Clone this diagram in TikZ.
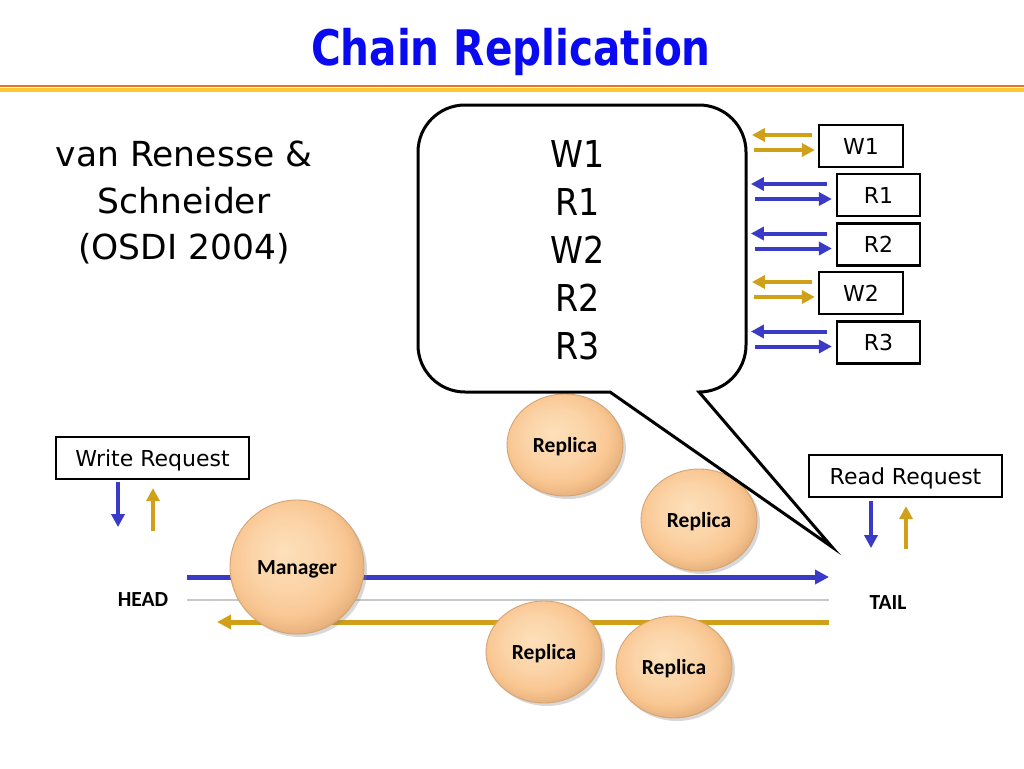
\documentclass[tikz,border=0pt]{standalone}
\usepackage{fontspec}
\usepackage{graphicx}
\setmainfont{DejaVu Sans}
\newfontfamily\condf{DejaVu Sans Condensed}
\newfontfamily\calib{Carlito}
\usetikzlibrary{arrows.meta,shadows,shapes.geometric,calc}
\definecolor{titleblue}{RGB}{10,10,240}
\definecolor{arrblue}{RGB}{58,58,200}
\definecolor{arrgold}{RGB}{208,160,24}
\definecolor{lineorange}{RGB}{240,112,32}
\definecolor{lineyellow}{RGB}{250,200,50}
\definecolor{peachL}{RGB}{253,224,186}
\definecolor{peachM}{RGB}{249,198,146}
\definecolor{peachD}{RGB}{205,148,92}
\definecolor{chaingray}{RGB}{200,200,200}
\pgfdeclareradialshading{peach}{\pgfpoint{-5bp}{6bp}}{color(0bp)=(peachL); color(14bp)=(peachL!50!peachM); color(22bp)=(peachM); color(27bp)=(peachM!65!peachD); color(32bp)=(peachD); color(50bp)=(peachD)}
\tikzset{
  ball/.style={shading=peach, draw=peachD!85, line width=0.9pt,
    drop shadow={shadow xshift=3pt, shadow yshift=-3pt, opacity=0.3},
    inner sep=0pt, text height=14pt, text depth=0pt,
    font=\calib\bfseries\fontsize{21.5}{21.5}\selectfont},
  replica/.style={ball, ellipse, minimum width=116pt, minimum height=102pt},
  manager/.style={ball, circle, minimum size=134pt},
  txtbox/.style={draw=black, line width=2.2pt, inner sep=0pt, text height=16pt, text depth=0pt,
    font=\fontsize{22}{22}\selectfont},
  barr/.style={-{Triangle[length=13pt,width=13pt]}, line width=4pt, draw=arrblue},
  garr/.style={-{Triangle[length=13pt,width=13pt]}, line width=4pt, draw=arrgold},
  lbl/.style={anchor=base, inner sep=0pt, font=\calib\bfseries\fontsize{21.5}{21.5}\selectfont},
}
\begin{document}
\begin{tikzpicture}[x=1pt,y=-1pt]
\useasboundingbox (0,0) rectangle (1024,768);
\fill[white] (0,0) rectangle (1024,768);

% title and rules
\node[anchor=base, inner sep=0pt, text=titleblue] (title) at (511,65)
  {\condf\bfseries\fontsize{49}{49}\selectfont\scalebox{0.92}[1]{Chain Replication}};
\draw[lineorange, line width=2.6pt] (0,86) -- (1024,86);
\draw[lineyellow, line width=3.8pt] (0,90.3) -- (1024,90.3);

% left text
\node[anchor=base, inner sep=0pt, font=\fontsize{34.5}{34.5}\selectfont] (a1) at (184,166) {van Renesse \&};
\node[anchor=base, inner sep=0pt, font=\fontsize{34.5}{34.5}\selectfont] (a2) at (184,213) {Schneider};
\node[anchor=base, inner sep=0pt, font=\fontsize{34.5}{34.5}\selectfont] (a3) at (184,259) {(OSDI 2004)};

% chain lines
\coordinate (bS) at (187,577); \coordinate (bE) at (829,577);
\coordinate (gS) at (187,600); \coordinate (gE) at (829,600);
\coordinate (yS) at (829,622); \coordinate (yE) at (217,622);
\draw[line width=5pt, arrblue, -{Triangle[length=14pt,width=14pt]}] (bS) -- (bE);
\draw[line width=2pt, chaingray] (gS) -- (gE);
\draw[line width=5pt, arrgold, -{Triangle[length=14pt,width=14pt]}] (yS) -- (yE);

\node[lbl] (head) at (143,606) {HEAD};
\node[lbl] (tail) at (888,609) {TAIL};

% balls
\node[manager] (mgr) at (297,567) {Manager};
\node[replica] (ra) at (565,445) {Replica};
\node[replica] (rb) at (699,520) {Replica};
\node[replica] (rc) at (544,652) {Replica};
\node[replica] (rd) at (674,667) {Replica};

% callout
\draw[line width=3pt, fill=white, line join=miter]
  (465,105) -- (699,105) arc[start angle=-90, end angle=0, radius=47]
  -- (746,345) arc[start angle=0, end angle=90, radius=47]
  -- (699,392) -- (832,547) -- (610,392) -- (465,392)
  arc[start angle=90, end angle=180, radius=47]
  -- (418,152) arc[start angle=180, end angle=270, radius=47] -- cycle;
\foreach \t/\yy/\nm in {W1/167/c1, R1/215/c2, W2/263/c3, R2/311/c4, R3/359/c5}
  \node[anchor=base, inner sep=0pt, font=\condf\fontsize{37}{37}\selectfont] (\nm) at (578,\yy) {\t};

% request boxes
\node[txtbox, minimum width=84pt, minimum height=42pt] (w1) at (861,146) {W1};
\node[txtbox, minimum width=83pt, minimum height=42pt] (r1) at (878.5,195) {R1};
\node[txtbox, minimum width=83pt, minimum height=42pt] (r2) at (878.5,244.5) {R2};
\node[txtbox, minimum width=84pt, minimum height=42pt] (w2) at (861,293) {W2};
\node[txtbox, minimum width=83pt, minimum height=42pt] (r3) at (878.5,342.5) {R3};

\foreach \b in {w1,w2}{
  \draw[garr] ([xshift=-6pt,yshift=11pt]\b.west) -- ([xshift=-66pt,yshift=11pt]\b.west);
  \draw[garr] ([xshift=-64pt,yshift=-4pt]\b.west) -- ([xshift=-3pt,yshift=-4pt]\b.west);
}
\foreach \b in {r1,r2,r3}{
  \draw[barr] ([xshift=-9pt,yshift=11pt]\b.west) -- ([xshift=-85pt,yshift=11pt]\b.west);
  \draw[barr] ([xshift=-81pt,yshift=-4pt]\b.west) -- ([xshift=-4pt,yshift=-4pt]\b.west);
}

% write / read request
\node[txtbox, minimum width=193pt, minimum height=42pt] (wr) at (152.5,458) {Write Request};
\node[txtbox, minimum width=193pt, minimum height=42pt] (rr) at (905.5,476) {Read Request};
\draw[barr] ([xshift=-34.5pt,yshift=-2pt]wr.south) -- ([xshift=-34.5pt,yshift=-47pt]wr.south);
\draw[garr] ([xshift=0.5pt,yshift=-51pt]wr.south) -- ([xshift=0.5pt,yshift=-8pt]wr.south);
\draw[barr] ([xshift=-34.5pt,yshift=-3pt]rr.south) -- ([xshift=-34.5pt,yshift=-50pt]rr.south);
\draw[garr] ([xshift=0.5pt,yshift=-51pt]rr.south) -- ([xshift=0.5pt,yshift=-8pt]rr.south);
\end{tikzpicture}
\end{document}
